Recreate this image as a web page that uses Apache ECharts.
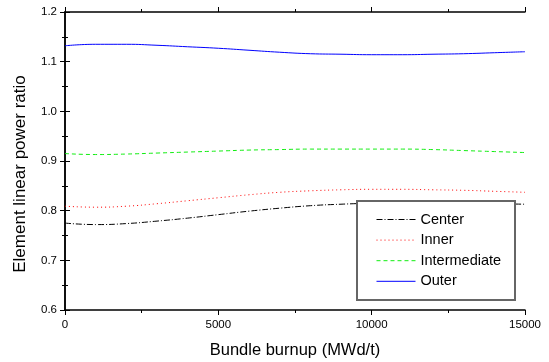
<!DOCTYPE html>
<html>
<head>
<meta charset="utf-8">
<script src="https://cdn.jsdelivr.net/npm/echarts@6/dist/echarts.min.js"></script>
<style>html,body{margin:0;padding:0;background:#fff;}#c{width:549px;height:362px;}</style>
</head>
<body>
<div id="c"></div>
<script>
const burnup = [0,1000,2000,3000,4000,5000,6000,7000,8000,9000,10000,11000,12000,13000,14000,15000];
const center = [0.775,0.772,0.774,0.779,0.785,0.792,0.799,0.805,0.810,0.813,0.815,0.816,0.816,0.815,0.814,0.813];
const inner = [0.809,0.807,0.809,0.814,0.820,0.826,0.832,0.837,0.840,0.842,0.843,0.843,0.842,0.841,0.839,0.837];
const intermediate = [0.915,0.913,0.914,0.916,0.918,0.920,0.922,0.923,0.924,0.924,0.924,0.924,0.923,0.921,0.919,0.917];
const outer = [1.132,1.135,1.135,1.133,1.130,1.127,1.123,1.119,1.116,1.115,1.114,1.114,1.115,1.116,1.118,1.120];
const seriesNames = ['Center','Inner','Intermediate','Outer'];
const xTitle = 'Bundle burnup (MWd/t)';
const yTitle = 'Element linear power ratio';

const pair = arr => burnup.map((b,i)=>[b,arr[i]]);
const font = 'Liberation Sans, Arial, sans-serif';
const styles = {
  Center:{color:'#000000',type:[6,2,1,2]},
  Inner:{color:'#ff0000',type:[1,3]},
  Intermediate:{color:'#11ee11',type:[4,3]},
  Outer:{color:'#0000ff',type:'solid'}
};
const axisBase = {
  axisLine:{show:true,lineStyle:{color:'#000',width:1.5}},
  axisTick:{show:true,inside:false,length:5,lineStyle:{color:'#000',width:1}},
  minorTick:{show:true,splitNumber:2,length:3,lineStyle:{color:'#000',width:1}},
  splitLine:{show:false}
};
const seriesData = {Center:center,Inner:inner,Intermediate:intermediate,Outer:outer};
const chart = echarts.init(document.getElementById('c'));
chart.setOption({
  animation:false,
  backgroundColor:'#fff',
  grid:{left:65,right:24,top:12,bottom:52,outerBoundsMode:'none',containLabel:false},
  xAxis:[
    Object.assign({type:'value',min:0,max:15000,interval:5000,position:'bottom',
      name:xTitle,nameLocation:'middle',nameGap:32,
      nameTextStyle:{fontFamily:font,fontSize:16.5,color:'#000'},
      axisLabel:{fontFamily:font,fontSize:11.5,color:'#000',margin:9,formatter:v=>String(v)}},axisBase),
    Object.assign({type:'value',min:0,max:15000,interval:5000,position:'top',axisLabel:{show:false}},axisBase)
  ],
  yAxis:[
    Object.assign({type:'value',min:0.6,max:1.2,interval:0.1,position:'left',
      axisLabel:{fontFamily:font,fontSize:11.5,color:'#000',margin:8,formatter:v=>v.toFixed(1)}},axisBase),
    Object.assign({type:'value',min:0.6,max:1.2,interval:0.1,position:'right',axisLabel:{show:false}},axisBase)
  ],
  legend:{
    orient:'vertical',left:371,top:207,itemWidth:39,itemHeight:14,itemGap:5.6,
    data:seriesNames.map(n=>({name:n,itemStyle:{opacity:0},
      lineStyle:{color:styles[n].color,width:1,type:styles[n].type,opacity:1}})),
    textStyle:{fontFamily:font,fontSize:14.5,color:'#000'}
  },
  graphic:[
    {type:'rect',left:356,top:200,shape:{width:158,height:99},
      style:{fill:'#fff',stroke:'#666',lineWidth:2},z:1},
    {type:'text',x:20,y:174,rotation:Math.PI/2,
      style:{text:yTitle,fontFamily:font,fontSize:17,fill:'#000',align:'center',verticalAlign:'middle'}}
  ],
  series:seriesNames.map(n=>({
    name:n,type:'line',data:pair(seriesData[n]),smooth:true,symbol:'none',
    lineStyle:{color:styles[n].color,width:1,type:styles[n].type},
    itemStyle:{color:styles[n].color},z:0
  }))
});
</script>
</body>
</html>
